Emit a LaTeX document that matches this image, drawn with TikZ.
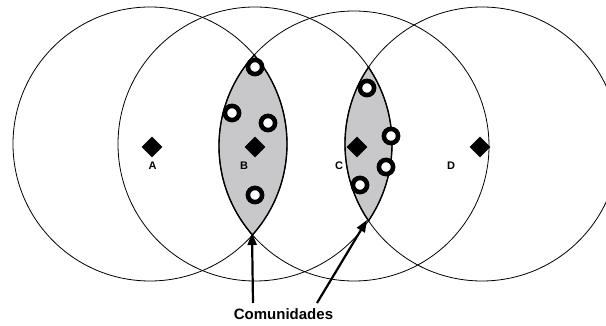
\documentclass[tikz,border=0pt]{standalone}
\usepackage{fontspec}
\setmainfont{Liberation Sans}
\usetikzlibrary{arrows.meta,shapes.geometric}
\definecolor{lensgray}{RGB}{200,200,202}
\begin{document}
\begin{tikzpicture}[x=1pt,y=-1pt,
  rangeline/.style={draw=black,line width=0.8pt},
  lensline/.style={draw=black,line width=1.4pt},
  station/.style={diamond,fill=black,inner sep=0pt,minimum width=21pt,minimum height=21pt},
  stationlabel/.style={font=\bfseries\fontsize{11}{13}\selectfont,inner sep=0pt},
  ring/.style={circle,draw=black,line width=4.6pt,fill=white,inner sep=0pt,minimum size=14.2pt},
  pointer/.style={line width=2.2pt,-{Triangle[length=12pt,width=9pt]}}
]
\useasboundingbox (0,0) rectangle (606,326);
\clip (0,0) rectangle (606,326);

% centres of the four coverage circles
\coordinate (cA) at (150,144);
\coordinate (cB) at (255,144);
\coordinate (cC) at (354,146);
\coordinate (cD) at (482,144);

% shaded overlaps (A with C, B with D)
\begin{scope}
  \clip (cA) circle[radius=137pt];
  \fill[lensgray] (cC) circle[radius=135pt];
\end{scope}
\begin{scope}
  \clip (cB) circle[radius=137pt];
  \fill[lensgray] (cD) circle[radius=137pt];
\end{scope}

% coverage circles
\draw[rangeline] (cA) circle[radius=137pt];
\draw[rangeline] (cB) circle[radius=137pt];
\draw[rangeline] (cC) circle[radius=135pt];
\draw[rangeline] (cD) circle[radius=137pt];

% heavier outline of the overlaps
\begin{scope}
  \clip (cA) circle[radius=137.8pt];
  \draw[lensline] (cC) circle[radius=135pt];
\end{scope}
\begin{scope}
  \clip (cC) circle[radius=135.8pt];
  \draw[lensline] (cA) circle[radius=137pt];
\end{scope}
\begin{scope}
  \clip (cB) circle[radius=137.8pt];
  \draw[lensline] (cD) circle[radius=137pt];
\end{scope}
\begin{scope}
  \clip (cD) circle[radius=137.8pt];
  \draw[lensline] (cB) circle[radius=137pt];
\end{scope}

% stations
\node[station] (dA) at (152,147) {};
\node[station] (dB) at (255,147) {};
\node[station] (dC) at (357,147) {};
\node[station] (dD) at (480,147) {};
\node[stationlabel] (lA) at (152.5,166) {A};
\node[stationlabel] (lB) at (244,166) {B};
\node[stationlabel] (lC) at (339,166) {C};
\node[stationlabel] (lD) at (451,166) {D};

% nodes inside the overlaps
\node[ring] (r1) at (255,67) {};
\node[ring] (r2) at (232,113) {};
\node[ring] (r3) at (268,123) {};
\node[ring] (r4) at (255,195) {};
\node[ring] (r5) at (367,88) {};
\node[ring] (r6) at (391,136) {};
\node[ring] (r7) at (386,167) {};
\node[ring] (r8) at (360,185) {};

% caption and pointers
\node[font=\bfseries\fontsize{15}{18}\selectfont,inner sep=0pt] (com) at (283.5,314) {Comunidades};
\coordinate (tipB) at (252,233);
\coordinate (tipC) at (367,220);
\coordinate (tailB) at (253,303);
\coordinate (tailC) at (317,303);
\draw[pointer] (tailB) -- (tipB);
\draw[pointer] (tailC) -- (tipC);
\end{tikzpicture}
\end{document}
